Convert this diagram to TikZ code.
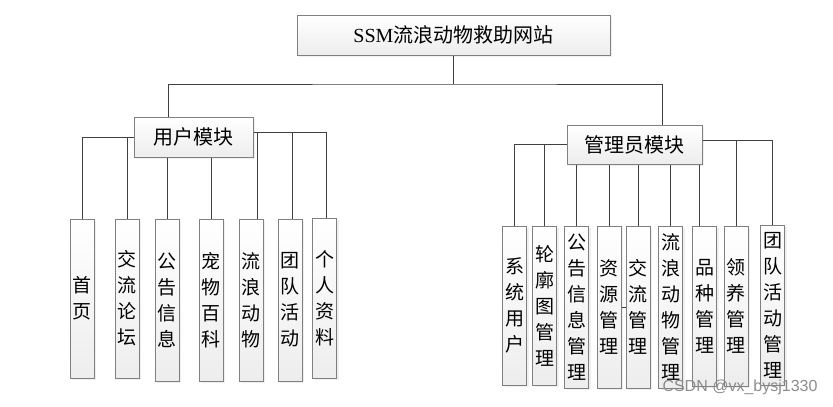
\documentclass[tikz,border=0pt]{standalone}
\usepackage{fontspec}
\setmainfont{Liberation Serif}
\newfontfamily\cjk{Noto Sans CJK SC}
\newfontfamily\marksans{Liberation Sans}
\usetikzlibrary{shadows}

\tikzset{
	modbox/.style={draw=black!50, line width=1pt, top color=white, bottom color=black!7,
		drop shadow={shadow xshift=2pt, shadow yshift=-2pt, fill=black!12}, inner sep=0pt},
	headbox/.style={modbox, font=\cjk\fontsize{20}{24}\selectfont},
	leafbox/.style={modbox, minimum width=24pt, align=center, font=\cjk\fontsize{19}{26}\selectfont},
	link/.style={draw=black!75, line width=1pt}
}

\begin{document}
\begin{tikzpicture}[x=1pt, y=-1pt]
		\useasboundingbox (0,0) rectangle (833,407);
		
		% DRAW THE MODULE BOXES
		\node[headbox, minimum width=313pt, minimum height=40pt] (site) at (453.5,35) {{\rmfamily SSM}流浪动物救助网站};
		\node[headbox, minimum width=119pt, minimum height=40pt] (um) at (193.5,137) {用户模块};
		\node[headbox, minimum width=135pt, minimum height=39pt] (am) at (634.5,144.5) {管理员模块};
		\coordinate (split) at (453.5,84);
		
		% USER LEAVES
		\node[leafbox, minimum height=159pt] (u1) at (82,298.5) {首\\页};
		\node[leafbox, minimum height=159pt] (u2) at (127,298.5) {交\\流\\论\\坛};
		\node[leafbox, minimum height=162pt] (u3) at (167,300) {公\\告\\信\\息};
		\node[leafbox, minimum height=162pt] (u4) at (211,300) {宠\\物\\百\\科};
		\node[leafbox, minimum height=162pt] (u5) at (251,300) {流\\浪\\动\\物};
		\node[leafbox, minimum height=162pt] (u6) at (290,300) {团\\队\\活\\动};
		\node[leafbox, minimum height=160pt] (u7) at (324.5,298) {个\\人\\资\\料};
		
		% ADMIN LEAVES
		\node[leafbox, minimum height=159pt] (a1) at (514.5,305.5) {系\\统\\用\\户};
		\node[leafbox, minimum height=159pt] (a2) at (544.5,305.5) {轮\\廓\\图\\管\\理};
		\node[leafbox, minimum height=162pt] (a3) at (576.5,307) {公\\告\\信\\息\\管\\理};
		\node[leafbox, minimum height=162pt] (a4) at (609,307) {资\\源\\管\\理};
		\node[leafbox, minimum height=162pt] (a5) at (638,307) {交\\流\\管\\理};
		\node[leafbox, minimum height=162pt] (a6) at (670.5,307) {流\\浪\\动\\物\\管\\理};
		\node[leafbox, minimum height=160pt] (a7) at (704.5,306) {品\\种\\管\\理};
		\node[leafbox, minimum height=160pt] (a8) at (736,306) {领\\养\\管\\理};
		\node[leafbox, minimum height=160pt] (a9) at (772.5,305) {团\\队\\活\\动\\管\\理};
		
		% CONNECTORS
		\draw[link] (site.south) -- (split);
		\draw[link] ([xshift=-25.5pt]um.north) |- (split) -| ([xshift=27.5pt]am.north);
		
		\draw[link] (um.west) -| (u1.north);
		\draw[link] (um.west) -| (u2.north);
		\draw[link] (um.south -| u3.north) -- (u3.north);
		\draw[link] (um.south -| u4.north) -- (u4.north);
		\draw[link] ([yshift=5pt]um.east) -| ([xshift=6pt]u5.north);
		\draw[link] ([yshift=5pt]um.east) -| ([xshift=2pt]u6.north);
		\draw[link] ([yshift=5pt]um.east) -| ([xshift=1.5pt]u7.north);
		
		\draw[link] (am.west) -| (a1.north);
		\draw[link] (am.west) -| (a2.north);
		\draw[link] (am.south -| a3.north) -- (a3.north);
		\draw[link] (am.south -| a4.north) -- (a4.north);
		\draw[link] (am.south -| a5.north) -- (a5.north);
		\draw[link] (am.south -| a6.north) -- (a6.north);
		\draw[link] ([xshift=-5.5pt]am.south -| a7.north) -- ([xshift=-5.5pt]a7.north);
		\draw[link] ([yshift=4.5pt]am.east) -| (a8.north);
		\draw[link] ([yshift=4.5pt]am.east) -| (a9.north);
		\draw[link] (a4.east) -- (a5.west);
		
		\node[text=black!45, font=\marksans\fontsize{16}{16}\selectfont] (mark) at (740,387) {CSDN @vx\_bysj1330};
	\end{tikzpicture}
\end{document}
